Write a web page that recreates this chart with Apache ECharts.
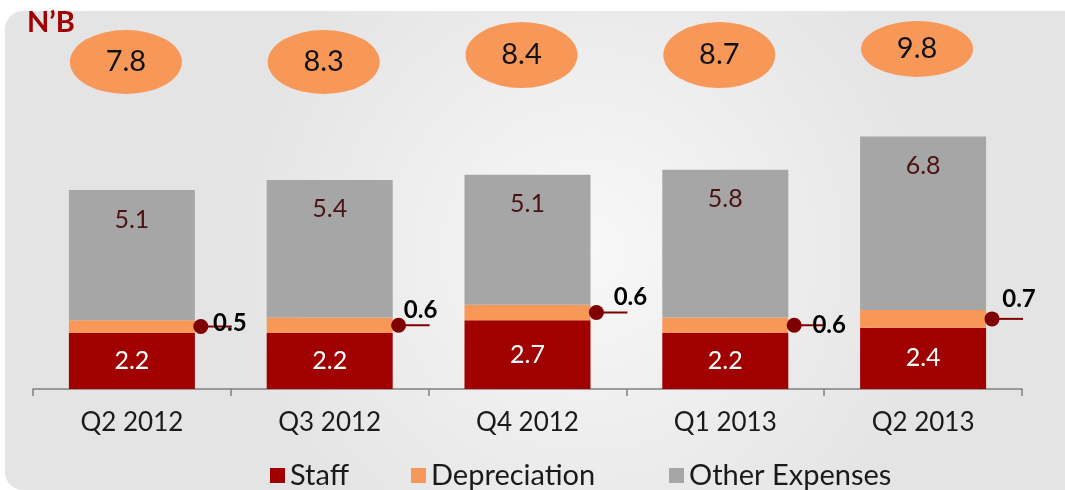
<!DOCTYPE html>
<html>
<head>
<meta charset="utf-8">
<script src="https://cdn.jsdelivr.net/npm/echarts@6/dist/echarts.min.js"></script>
<style>
  html, body { margin: 0; padding: 0; background: #fff; }
  #main { width: 1065px; height: 490px; }
</style>
</head>
<body>
<div id="main"></div>
<script>
(function () {
    "use strict";

    var categories = ['Q2 2012', 'Q3 2012', 'Q4 2012', 'Q1 2013', 'Q2 2013'];
    var seriesNames = ['Staff', 'Depreciation', 'Other Expenses'];
    var staff = [2.2, 2.2, 2.7, 2.2, 2.4];
    var depreciation = [0.5, 0.6, 0.6, 0.6, 0.7];
    var otherExpenses = [5.1, 5.4, 5.1, 5.8, 6.8];
    var totals = [7.8, 8.3, 8.4, 8.7, 9.8];

    // layout of the bubbles, callouts and legend items (pixels)
    var bubbleY = [62, 62, 55, 55, 49];
    var bubbleRy = [32, 32, 33, 33, 28];
    var calloutDx = [29, 22, 34, 35, 27];
    var calloutDy = [-3, -15, -15, 0, -20];
    var legendLeft = [265, 406, 664];

    var font = 'Lato';
    var dom = document.getElementById('main');
    var myChart = echarts.init(dom);
    var option = null;

    option = {
        backgroundColor: '#ffffff',
        animation: false,
        textStyle: { fontFamily: font },
        graphic: [
            {
                type: 'rect',
                z: -10,
                shape: { x: 5, y: 11, width: 1060, height: 479, r: [18, 0, 0, 18] },
                style: {
                    fill: {
                        type: 'radial', x: 0.55, y: 0.5, r: 0.75,
                        colorStops: [
                            { offset: 0, color: '#f8f8f8' },
                            { offset: 1, color: '#e4e4e4' }
                        ]
                    }
                }
            },
            {
                type: 'text',
                left: 27,
                top: 8,
                style: {
                    text: 'N\u2019B',
                    fontFamily: font,
                    fontSize: 29,
                    fontWeight: 'bold',
                    fill: '#a00000'
                }
            }
        ],
        legend: seriesNames.map(function (name, i) {
            return {
                left: legendLeft[i],
                top: 456,
                icon: 'rect',
                itemWidth: 15,
                itemHeight: 15,
                textStyle: { fontFamily: font, fontSize: 29, color: '#1a1a1a' },
                data: [name]
            };
        }),
        grid: { left: 33, right: 43, top: 83, bottom: 101 },
        xAxis: {
            type: 'category',
            data: categories,
            axisLine: { lineStyle: { color: '#808080', width: 1.5 } },
            axisTick: { show: true, length: 7, lineStyle: { color: '#808080', width: 1.5 } },
            axisLabel: { fontFamily: font, fontSize: 26, color: '#1a1a1a', margin: 21 }
        },
        yAxis: {
            type: 'value',
            min: 0,
            max: 12,
            show: false,
            splitLine: { show: false }
        },
        series: [
            {
                name: seriesNames[0],
                type: 'bar',
                stack: 'cost',
                barWidth: 126,
                data: staff,
                itemStyle: { color: '#a00000' },
                label: {
                    show: true,
                    position: 'inside',
                    color: '#ffffff',
                    fontFamily: font,
                    fontSize: 25
                }
            },
            {
                name: seriesNames[1],
                type: 'bar',
                stack: 'cost',
                barWidth: 126,
                data: depreciation,
                itemStyle: { color: '#f79858' }
            },
            {
                name: seriesNames[2],
                type: 'bar',
                stack: 'cost',
                barWidth: 126,
                data: otherExpenses,
                itemStyle: { color: '#a6a6a6' },
                label: {
                    show: true,
                    position: 'insideTop',
                    distance: 17,
                    color: '#4a1212',
                    fontFamily: font,
                    fontSize: 25
                }
            },
            {
                name: 'callouts',
                type: 'custom',
                z: 10,
                silent: true,
                data: depreciation.map(function (v, i) { return [i, v]; }),
                renderItem: function (params, api) {
                    var i = api.value(0);
                    var v = api.value(1);
                    var p = api.coord([i, staff[i] + v / 2]);
                    var half = api.size([1, 0])[0] * 0.318;
                    var cx = p[0] + half + 6;
                    var cy = p[1];
                    return {
                        type: 'group',
                        children: [
                            {
                                type: 'line',
                                shape: { x1: cx, y1: cy, x2: cx + 31, y2: cy },
                                style: { stroke: '#800000', lineWidth: 2 }
                            },
                            {
                                type: 'circle',
                                shape: { cx: cx, cy: cy, r: 7.5 },
                                style: { fill: '#800000' }
                            },
                            {
                                type: 'text',
                                x: cx + calloutDx[i],
                                y: cy + calloutDy[i],
                                style: {
                                    text: v.toFixed(1),
                                    fontFamily: font,
                                    fontSize: 24,
                                    fontWeight: 'bold',
                                    fill: '#000000',
                                    align: 'center',
                                    verticalAlign: 'middle'
                                }
                            }
                        ]
                    };
                }
            },
            {
                name: 'totals',
                type: 'custom',
                z: 10,
                silent: true,
                data: totals.map(function (v, i) { return [i, v]; }),
                renderItem: function (params, api) {
                    var i = api.value(0);
                    var x = api.coord([i, 0])[0] - 6;
                    var y = bubbleY[i];
                    var ry = bubbleRy[i];
                    return {
                        type: 'group',
                        children: [
                            {
                                type: 'circle',
                                x: x,
                                y: y,
                                scaleY: ry / 56,
                                shape: { cx: 0, cy: 0, r: 56 },
                                style: { fill: '#f79858' }
                            },
                            {
                                type: 'text',
                                x: x,
                                y: y,
                                style: {
                                    text: api.value(1).toFixed(1),
                                    fontFamily: font,
                                    fontSize: 29,
                                    fill: '#111111',
                                    align: 'center',
                                    verticalAlign: 'middle'
                                }
                            }
                        ]
                    };
                }
            }
        ]
    };

    if (option && typeof option === "object") {
        myChart.setOption(option, true);
    }
})();
</script>
</body>
</html>
